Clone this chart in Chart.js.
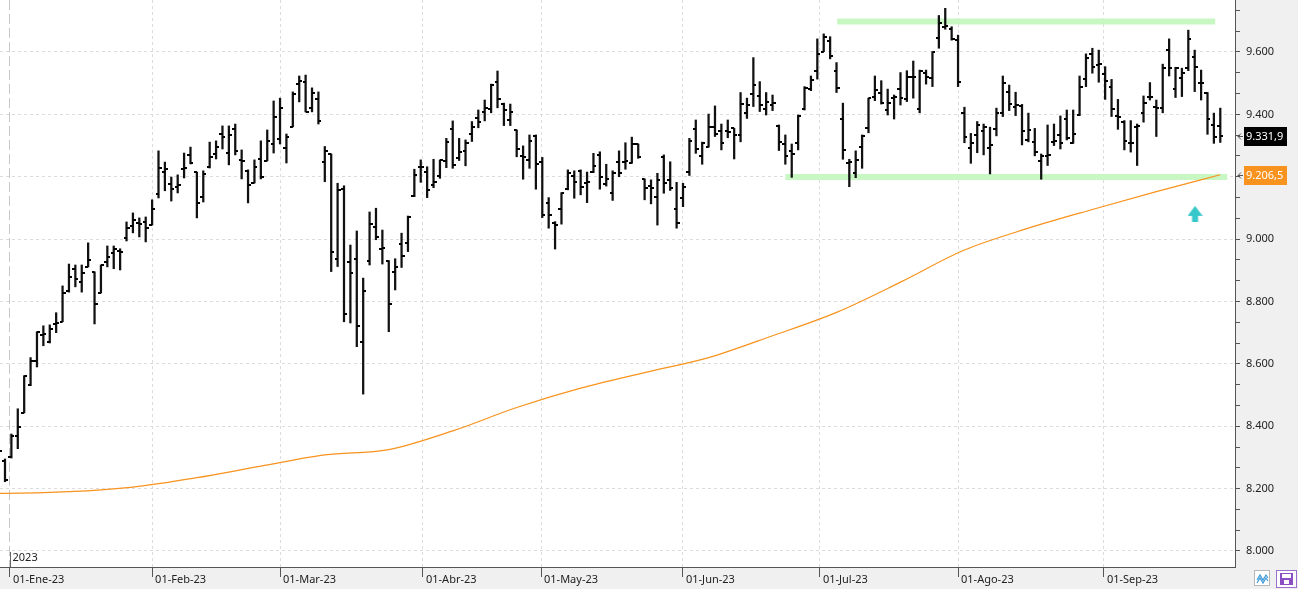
<!DOCTYPE html>
<html>
<head>
<meta charset="utf-8">
<script src="https://cdn.jsdelivr.net/npm/chart.js@4.4.0/dist/chart.umd.min.js"></script>
<style>
  html, body { margin: 0; padding: 0; background: #fff; overflow: hidden; }
  #wrap { width: 1298px; height: 589px; }
</style>
</head>
<body>
<div id="wrap"><canvas id="chart" width="1298" height="589" style="width:1298px;height:589px"></canvas></div>
<script>
// daily bars, 29-Dec-22 .. 27-Sep-23 (x value = bar number)
var dayOpen = [8300,8290,8300,8369,8443,8533,8610,8693,8670,8728,
  8735,8834,8905,8862,8911,8895,8827,8927,8956,8962,
  9004,9042,9052,9055,9045,9145,9215,9177,9167,9225,
  9270,9215,9135,9231,9273,9337,9276,9353,9254,9219,
  9180,9257,9251,9305,9321,9292,9360,9497,9504,9420,
  9450,9246,9273,8936,9160,8926,8936,8670,8930,9038,
  8968,8931,8896,8985,8987,9138,9232,9216,9172,9202,
  9251,9352,9259,9283,9336,9387,9407,9416,9503,9432,
  9382,9350,9265,9254,9332,9246,9117,9051,9097,9160,
  9203,9219,9179,9216,9269,9177,9147,9247,9247,9243,
  9304,9192,9170,9136,9264,9188,9096,9131,9214,9352,
  9267,9295,9359,9347,9347,9355,9333,9405,9465,9459,
  9417,9430,9364,9305,9283,9307,9417,9481,9540,9601,
  9635,9540,9385,9245,9211,9296,9355,9457,9468,9414,
  9452,9480,9448,9519,9416,9534,9516,9644,9679,9673,
  9638,9405,9293,9334,9347,9291,9353,9403,9473,9425,
  9428,9318,9311,9251,9267,9311,9334,9384,9307,9398,
  9512,9594,9558,9530,9487,9395,9377,9307,9359,9404,
  9455,9423,9421,9606,9481,9516,9548,9583,9502,9468,
  9366,9363];
var dayHigh = [8330,8295,8375,8456,8562,8620,8703,8722,8725,8764,
  8850,8920,8917,8917,8988,8895,8917,8978,8978,8969,
  9055,9084,9068,9071,9126,9283,9247,9199,9206,9276,
  9295,9215,9219,9311,9315,9363,9363,9369,9286,9222,
  9254,9315,9350,9443,9452,9337,9472,9523,9526,9485,
  9472,9297,9273,9179,9171,8981,9026,8875,9087,9099,
  9029,8931,8937,9019,9074,9224,9254,9232,9256,9254,
  9323,9379,9323,9318,9377,9414,9446,9497,9539,9436,
  9433,9350,9299,9334,9334,9262,9133,9056,9149,9222,
  9219,9222,9215,9275,9280,9240,9219,9283,9309,9327,
  9305,9193,9190,9211,9270,9248,9182,9179,9323,9382,
  9311,9401,9427,9369,9382,9355,9470,9452,9582,9505,
  9470,9462,9366,9334,9305,9398,9489,9523,9642,9658,
  9649,9566,9436,9256,9283,9334,9452,9523,9508,9481,
  9462,9534,9540,9571,9542,9542,9601,9717,9740,9681,
  9654,9423,9339,9377,9369,9359,9420,9523,9494,9471,
  9432,9404,9355,9273,9366,9369,9395,9414,9414,9523,
  9594,9612,9606,9553,9512,9448,9380,9380,9369,9459,
  9502,9446,9561,9642,9551,9548,9670,9606,9542,9470,
  9404,9420];
var dayLow = [8290,8222,8298,8328,8443,8530,8590,8658,8667,8700,
  8735,8830,8847,8830,8911,8728,8827,8911,8905,8901,
  8994,9020,9007,8991,9045,9132,9155,9122,9148,9196,
  9241,9068,9119,9228,9257,9289,9238,9270,9193,9116,
  9180,9193,9251,9276,9305,9244,9360,9440,9408,9408,
  9369,9184,8896,8912,8735,8731,8655,8503,8917,8998,
  8920,8703,8837,8909,8960,9136,9182,9133,9165,9195,
  9229,9227,9252,9235,9313,9357,9379,9405,9421,9364,
  9364,9264,9192,9227,9160,9069,9035,8968,9048,9158,
  9131,9142,9117,9213,9160,9170,9124,9200,9224,9243,
  9259,9126,9113,9045,9147,9156,9035,9104,9204,9275,
  9240,9295,9329,9286,9325,9257,9312,9387,9425,9409,
  9398,9412,9284,9240,9198,9286,9414,9476,9513,9601,
  9578,9470,9256,9168,9197,9227,9341,9444,9433,9398,
  9385,9430,9441,9452,9405,9497,9489,9612,9673,9638,
  9489,9309,9243,9277,9270,9209,9331,9393,9412,9396,
  9302,9312,9267,9192,9236,9300,9289,9318,9307,9396,
  9489,9532,9503,9448,9393,9352,9286,9279,9236,9375,
  9446,9329,9405,9523,9454,9457,9540,9473,9446,9336,
  9307,9310];
var dayClose = [8321,8228,8370,8398,8562,8610,8703,8696,8712,8731,
  8828,8879,8872,8891,8933,8792,8917,8943,8969,8959,
  9036,9062,9049,9036,9097,9228,9225,9161,9174,9228,
  9244,9116,9209,9263,9295,9327,9334,9283,9251,9174,
  9231,9200,9315,9392,9420,9327,9465,9507,9408,9470,
  9380,9284,8958,9157,8759,8891,8720,8832,9048,9008,
  8971,8792,8909,8946,9070,9206,9230,9158,9182,9254,
  9311,9237,9279,9307,9361,9377,9421,9494,9448,9414,
  9407,9288,9262,9316,9240,9078,9078,9046,9149,9211,
  9182,9167,9182,9235,9200,9192,9211,9211,9251,9304,
  9264,9163,9165,9190,9179,9163,9051,9167,9316,9288,
  9309,9359,9336,9307,9343,9333,9433,9430,9494,9430,
  9441,9436,9312,9267,9272,9395,9484,9510,9594,9647,
  9587,9484,9286,9246,9254,9331,9452,9478,9436,9436,
  9455,9452,9519,9519,9540,9519,9601,9692,9683,9641,
  9505,9329,9307,9366,9361,9302,9403,9500,9433,9429,
  9347,9350,9279,9267,9270,9314,9307,9323,9336,9489,
  9580,9551,9560,9508,9416,9391,9316,9309,9364,9436,
  9457,9420,9548,9550,9548,9534,9642,9551,9500,9384,
  9327,9331.9];

// moving average, read at a few bars
var maBar = [0, 1, 11, 21, 31, 41, 51, 61, 71, 81, 91, 101, 111, 121, 131, 141, 151, 161, 171, 181, 191];
var maValue = [8185, 8185, 8190, 8205, 8235, 8272, 8308, 8325, 8385, 8460, 8522, 8572, 8620, 8690, 8765, 8862, 8965, 9035, 9095, 9152, 9206.5];

// hand-drawn levels
var supportBars = [123.0, 192.1];
var supportLevel = 9199;
var resistBars = [131.1, 190.2];
var resistLevel = 9698;
var arrowBar = 187.05;
var arrowLevel = 9081;

// axis ticks
var monthTicks = [1.78, 24, 44, 66.35, 84.8, 107, 128.4, 150, 172.8];
var monthLabels = ['01-Ene-23', '01-Feb-23', '01-Mar-23', '01-Abr-23', '01-May-23', '01-Jun-23', '01-Jul-23', '01-Ago-23', '01-Sep-23'];
var yearLabel = '2023';
var priceBase = 8000, priceMajor = 200, priceMinorPerMajor = 3;

var FONT = '"Noto Sans", "Open Sans", sans-serif';

function fmt(v, dec){
  var neg = v < 0; v = Math.abs(v);
  var s = dec ? v.toFixed(dec) : String(Math.round(v));
  var parts = s.split('.');
  var ip = parts[0].replace(/\B(?=(\d{3})+(?!\d))/g, '.');
  return (neg ? '-' : '') + ip + (parts[1] ? ',' + parts[1] : '');
}
function isMajor(v){ var k = (v - priceBase) / priceMajor; return Math.abs(k - Math.round(k)) < 1e-6; }

function tickImg(side){
  var c = document.createElement('canvas'); c.width = 6; c.height = 2;
  var g = c.getContext('2d'); g.fillStyle = '#000';
  g.fillRect(side < 0 ? 0 : 3, 0, 3, 2);
  return c;
}
function arrowImg(){
  var c = document.createElement('canvas'); c.width = 15; c.height = 16;
  var g = c.getContext('2d'); g.fillStyle = '#35c7c9';
  g.beginPath(); g.moveTo(7.5, 0); g.lineTo(15, 10); g.lineTo(0, 10); g.closePath(); g.fill();
  g.fillRect(4.5, 10, 6, 6);
  return c;
}

var bars = dayHigh.map(function(h, i){ return { x: i, y: [dayLow[i], h] }; });
var opens = dayOpen.map(function(v, i){ return { x: i, y: v }; });
var closes = dayClose.map(function(v, i){ return { x: i, y: v }; });
var ma = maBar.map(function(b, i){ return { x: b, y: maValue[i] }; });

var panelPlugin = {
  id: 'panel',
  beforeDraw: function(chart){
    var c = chart.ctx, a = chart.chartArea;
    c.save();
    c.fillStyle = '#f0f0f0'; c.fillRect(0, 0, chart.width, chart.height);
    c.fillStyle = '#ffffff'; c.fillRect(a.left, a.top, a.right - a.left, a.bottom - a.top);
    c.restore();
  },
  afterDraw: function(chart){
    var c = chart.ctx, ys = chart.scales.y, xs = chart.scales.x, a = chart.chartArea;
    c.save();
    function tag(v, bg){
      var py = Math.round(ys.getPixelForValue(v));
      var bx = ys.left + 9;
      c.fillStyle = bg; c.fillRect(bx, py - 9, 43, 19);
      c.fillStyle = '#fff'; c.font = '11px ' + FONT; c.textAlign = 'left'; c.textBaseline = 'middle';
      c.fillText(fmt(v, 1), bx + 2, py + 1);
      c.strokeStyle = '#555'; c.lineWidth = 1; c.beginPath();
      c.moveTo(ys.left + 3, py + 0.5); c.lineTo(ys.left + 8, py + 0.5);
      c.moveTo(ys.left + 6, py - 2.5); c.lineTo(ys.left + 3, py + 0.5); c.lineTo(ys.left + 6, py + 3.5);
      c.stroke();
    }
    tag(dayClose[dayClose.length - 1], '#000000');
    tag(maValue[maValue.length - 1], '#f7931e');

    // year marker
    var jx = Math.round(xs.getPixelForValue(monthTicks[0])) + 0.5;
    c.strokeStyle = '#666'; c.lineWidth = 1; c.beginPath(); c.moveTo(jx, a.bottom - 15); c.lineTo(jx, a.bottom); c.stroke();
    c.fillStyle = '#222'; c.font = '11px ' + FONT; c.textAlign = 'left'; c.textBaseline = 'middle';
    c.fillText(yearLabel, jx + 2, a.bottom - 9);

    // little buttons bottom right
    c.fillStyle = '#fff'; c.strokeStyle = '#b8b8b8';
    c.fillRect(1254.5, 570.5, 15, 15); c.strokeRect(1254.5, 570.5, 15, 15);
    c.strokeStyle = '#3d9ad9'; c.lineWidth = 1.2; c.beginPath();
    c.moveTo(1257, 580); c.lineTo(1260, 575); c.lineTo(1263, 580); c.lineTo(1266, 575); c.lineTo(1268, 578);
    c.moveTo(1257, 583); c.lineTo(1260, 578); c.lineTo(1263, 583); c.lineTo(1266, 578); c.lineTo(1268, 581);
    c.stroke();
    c.fillStyle = '#fff'; c.strokeStyle = '#9b6fd0'; c.lineWidth = 1;
    c.fillRect(1276.5, 570.5, 20, 17); c.strokeRect(1276.5, 570.5, 20, 17);
    c.fillStyle = '#8b4fc4'; c.fillRect(1280, 573, 13, 12);
    c.fillStyle = '#fff'; c.fillRect(1282, 574, 9, 4); c.fillRect(1284, 580, 5, 4);
    c.restore();
  }
};

new Chart(document.getElementById('chart'), {
  type: 'bar',
  data: {
    datasets: [
      { type: 'scatter', data: [{ x: arrowBar, y: arrowLevel }], pointStyle: arrowImg(), pointRadius: 8, order: 0 },
      { type: 'scatter', data: opens, pointStyle: tickImg(-1), pointRadius: 3, order: 1 },
      { type: 'scatter', data: closes, pointStyle: tickImg(1), pointRadius: 3, order: 1 },
      { type: 'bar', data: bars, backgroundColor: '#111', borderWidth: 0, barThickness: 1.6, grouped: false, order: 2 },
      { type: 'line', data: ma, borderColor: '#f7931e', borderWidth: 1.2, pointRadius: 0, cubicInterpolationMode: 'monotone', order: 3 },
      { type: 'line', data: resistBars.map(function(b){ return { x: b, y: resistLevel }; }), borderColor: '#c8f7c3', borderWidth: 6, borderCapStyle: 'butt', pointRadius: 0, order: 4 },
      { type: 'line', data: supportBars.map(function(b){ return { x: b, y: supportLevel }; }), borderColor: '#c8f7c3', borderWidth: 6, borderCapStyle: 'butt', pointRadius: 0, order: 4 }
    ]
  },
  options: {
    responsive: false,
    animation: false,
    events: [],
    layout: { padding: 0, autoPadding: false },
    plugins: { legend: { display: false }, tooltip: { enabled: false } },
    scales: {
      x: {
        type: 'linear', position: 'bottom', min: 0.22, max: 193.3, offset: false, bounds: 'data',
        afterBuildTicks: function(s){ s.ticks = monthTicks.map(function(v){ return { value: v }; }); },
        afterFit: function(s){ s.height = 22; s.paddingLeft = 0; s.paddingRight = 0; },
        ticks: {
          autoSkip: false, maxRotation: 0, align: 'start', labelOffset: 3, padding: -4,
          color: '#222', font: { family: FONT, size: 11 },
          callback: function(v, i){ return monthLabels[i]; }
        },
        grid: {
          offset: false, drawOnChartArea: true, lineWidth: 1,
          color: function(ctx){ return ctx.index === 0 ? '#c8c8c8' : '#dcdcdc'; },
          tickColor: '#555', tickLength: 10, tickBorderDash: []
        },
        border: { display: true, color: '#555', width: 1, dash: function(ctx){ return ctx.index === 0 ? [10, 4] : [3, 3]; } }
      },
      y: {
        type: 'linear', position: 'right', min: 7948.6, max: 9766.7, beginAtZero: false, bounds: 'data',
        afterBuildTicks: function(s){
          var t = [], step = priceMajor / priceMinorPerMajor;
          for (var k = 0; priceBase + k * step <= s.max; k++) t.push({ value: priceBase + k * step });
          s.ticks = t;
        },
        afterFit: function(s){ s.width = 63; s.paddingTop = 0; s.paddingBottom = 0; },
        ticks: {
          autoSkip: false, padding: 6, color: '#222', font: { family: FONT, size: 11 },
          callback: function(v){ return isMajor(v) ? fmt(v) : ''; }
        },
        grid: {
          drawOnChartArea: true, lineWidth: 1,
          color: function(ctx){ return ctx.tick && isMajor(ctx.tick.value) ? '#dcdcdc' : 'rgba(0,0,0,0)'; },
          tickColor: '#555', tickLength: 5, tickBorderDash: []
        },
        border: { display: true, color: '#555', width: 1, dash: [3, 3] }
      }
    }
  },
  plugins: [panelPlugin]
});
</script>
</body>
</html>
